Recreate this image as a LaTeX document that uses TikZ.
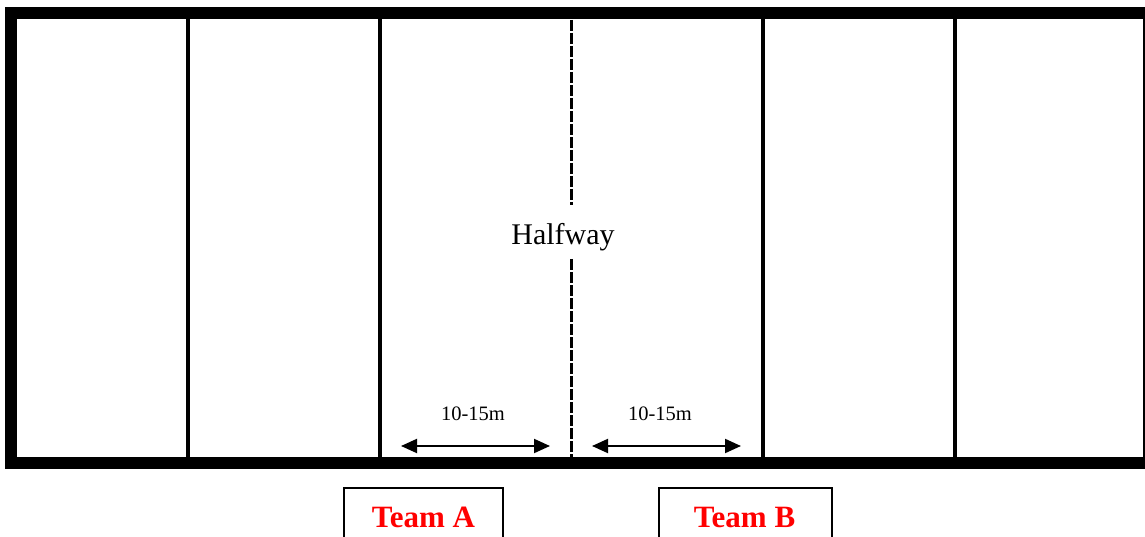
\documentclass[tikz,border=0pt]{standalone}
\usepackage{fontspec}
\setmainfont{Liberation Serif}
\usetikzlibrary{arrows.meta}
\tikzset{
  frameline/.style={line width=12pt},
  zoneline/.style={line width=4pt},
  halfline/.style={line width=3pt, dash pattern=on 11pt off 2pt},
  distarrow/.style={line width=2pt, {Triangle[length=16pt,width=14pt]}-{Triangle[length=16pt,width=14pt]}},
  teambox/.style={draw, line width=1.6pt, minimum width=#1, minimum height=120pt, anchor=north, inner sep=0pt},
  teamtxt/.style={text=red, font=\fontsize{31}{36}\selectfont\bfseries, anchor=base, inner sep=0pt},
  disttxt/.style={font=\fontsize{20.5}{24}\selectfont, anchor=base, inner sep=0pt},
  halftxt/.style={font=\fontsize{30}{36}\selectfont, anchor=base, inner sep=0pt}
}
\begin{document}
\begin{tikzpicture}[x=1pt,y=-1pt]
\useasboundingbox (0,0) rectangle (1145,537);
\clip (0,0) rectangle (1145,537);
% zone lines
\foreach \xx in {188,380,763,955} {
  \draw[zoneline] (\xx,13) -- (\xx,463);
}
% halfway dashed line
\coordinate (h1) at (571,20);
\coordinate (h2) at (571,205);
\coordinate (h3) at (571,259);
\coordinate (h4) at (571,457);
\draw[halfline] (h1) -- (h2);
\draw[halfline] (h3) -- (h4);
\node[halftxt] (half) at (563,245) {Halfway};
% frame
\draw[frameline] (11,13) rectangle (1149,463);
% distance arrows
\coordinate (aL1) at (401,446);
\coordinate (aL2) at (550,446);
\coordinate (aR1) at (592,446);
\coordinate (aR2) at (741,446);
\draw[distarrow] (aL1) -- (aL2);
\draw[distarrow] (aR1) -- (aR2);
\node[disttxt] (dL) at (473,420) {10-15m};
\node[disttxt] (dR) at (660,420) {10-15m};
% team boxes
\node[teambox=159pt] (boxA) at (423.5,487) {};
\node[teambox=173pt] (boxB) at (745.5,487) {};
\node[teamtxt] (teamA) at (423.5,527) {Team A};
\node[teamtxt] (teamB) at (744.5,527) {Team B};
\end{tikzpicture}
\end{document}
